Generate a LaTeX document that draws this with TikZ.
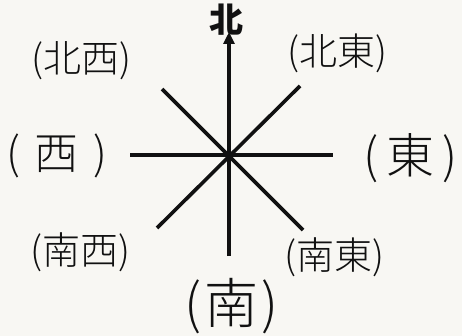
\documentclass[tikz,border=0pt]{standalone}
\usepackage{fontspec}
\newfontfamily\cjk{Noto Sans CJK JP}
\newfontfamily\cjkthin{Noto Sans CJK JP Light}
\usetikzlibrary{arrows.meta}
\definecolor{paper}{HTML}{F8F7F3}
\definecolor{ink}{HTML}{111111}
\tikzset{
  spoke/.style={line width=3.6pt, ink},
  lbl/.style={inner sep=0pt, text=ink, font=\cjkthin\fontsize{38}{38}\selectfont},
}
\begin{document}
\begin{tikzpicture}[x=1pt,y=-1pt]
\fill[paper] (0,0) rectangle (462,336);
\useasboundingbox (0,0) rectangle (462,336);
\coordinate (c) at (229,156);
\coordinate (n) at (229,32);
\coordinate (s) at (229,256);
\coordinate (w) at (130,155);
\coordinate (e) at (333,155);
\coordinate (nw) at (162,89);
\coordinate (ne) at (300,86);
\coordinate (sw) at (157,228);
\coordinate (se) at (303,230);
\draw[spoke] (w) -- (e);
\draw[spoke] (nw) -- (se);
\draw[spoke] (sw) -- (ne);
\draw[spoke, -{Triangle[length=12pt,width=11pt]}] (s) -- (n);
\node[lbl, font=\cjk\bfseries\fontsize{34}{34}\selectfont] (ln) at (226,20) {北};
\node[lbl] (lnw) at (81,61) {(北西)};
\node[lbl] (lne) at (337,53) {(北東)};
\node[lbl] (lsw) at (80,252) {(南西)};
\node[lbl] (lse) at (334,257) {(南東)};
\node[lbl, font=\cjkthin\fontsize{44}{44}\selectfont] (lw) at (57,156) {(\,\,西\,\,)};
\node[lbl, font=\cjkthin\fontsize{48}{48}\selectfont] (le) at (411,158) {(\kern8pt 東\kern8pt)};
\node[lbl, font=\cjkthin\fontsize{54}{54}\selectfont] (ls) at (232,306) {(\kern3pt 南\kern3pt)};
\end{tikzpicture}
\end{document}
